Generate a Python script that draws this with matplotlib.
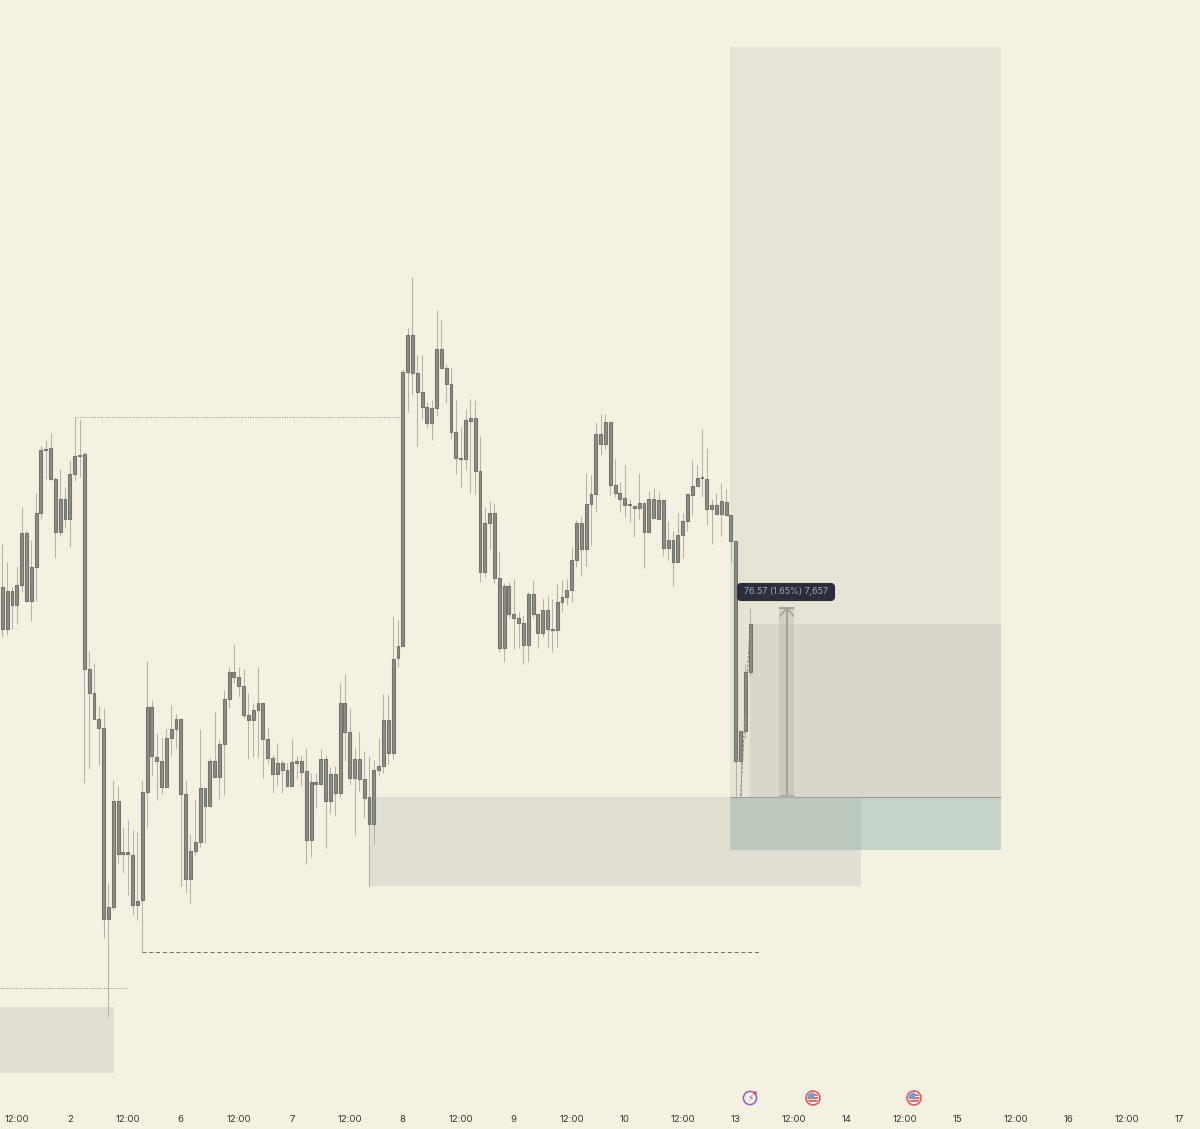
import matplotlib
matplotlib.use('Agg')
import matplotlib.pyplot as plt
from matplotlib.patches import Rectangle, Circle, FancyBboxPatch
from matplotlib.transforms import IdentityTransform

# hourly candles, heights (chart units, no price axis shown)
body_top = [542,538,538,544,596,596,562,616,679,680,681,650,630,630,655,673,674,675,460,436,
            410,401,222,328,328,277,277,274,228,337,422,422,372,368,391,400,410,410,335,278,
            287,341,341,368,368,385,430,457,457,452,443,414,419,426,426,390,371,366,366,359,
            367,368,368,358,347,347,370,370,355,355,426,426,397,370,370,350,332,359,363,409,
            409,470,483,757,794,794,756,737,722,721,780,780,761,745,697,671,709,711,711,658,
            606,616,616,551,543,543,515,511,506,535,535,515,519,519,500,527,532,539,569,606,
            606,625,635,695,695,707,707,644,636,631,625,623,626,626,630,630,629,629,589,589,
            594,608,635,643,651,652,650,624,624,628,627,614,588,398,457,505]
body_bot = [500,500,524,524,544,528,528,562,616,679,650,597,597,610,610,655,673,460,436,410,
            401,210,210,222,275,275,275,224,224,229,337,373,368,342,342,391,400,335,250,250,
            278,287,323,323,352,352,385,430,452,443,414,409,409,419,390,371,355,355,359,343,
            343,366,357,289,289,345,345,328,328,336,336,397,351,351,350,331,305,305,359,363,
            376,376,471,483,757,756,737,722,706,706,721,761,745,697,671,670,670,708,658,557,
            557,606,551,481,481,515,511,506,484,484,515,496,496,500,499,499,527,532,539,569,
            580,580,625,635,685,685,644,636,630,624,624,621,621,597,597,611,610,581,581,567,
            567,594,608,634,643,651,620,620,615,615,614,588,368,368,398,457]
wick_top = [585,567,542,563,622,599,589,636,683,689,696,652,660,642,669,712,709,677,478,466,
            423,421,246,349,343,302,309,299,297,349,468,429,396,391,400,424,415,410,349,295,
            329,400,341,371,417,389,439,462,485,462,460,436,426,462,426,401,374,386,369,366,
            390,373,374,381,356,356,380,374,362,363,446,455,421,381,397,378,373,369,391,435,
            435,513,509,760,801,852,774,774,727,729,819,809,765,761,729,702,720,730,729,693,
            622,628,625,577,546,547,550,517,514,537,549,515,531,533,530,545,549,550,582,609,
            613,656,654,707,715,715,707,670,647,664,630,623,656,626,638,641,637,629,608,598,
            616,616,635,669,664,700,681,630,636,646,640,614,588,398,465,521]
wick_bot = [492,494,500,505,537,527,508,528,610,650,649,571,593,601,582,648,652,346,360,410,
            364,191,112,219,266,256,234,214,209,177,302,353,329,335,342,374,381,243,236,226,
            274,282,286,323,352,330,334,421,446,432,411,370,372,372,351,366,336,343,336,343,
            343,350,343,265,272,321,344,281,316,313,332,368,344,294,338,311,242,285,353,356,
            365,370,462,483,717,734,683,710,701,689,713,761,726,690,655,642,659,636,635,547,
            552,580,546,477,467,511,480,481,465,467,511,481,492,482,477,482,517,524,527,562,
            553,563,583,617,674,680,634,632,617,612,607,592,610,561,597,611,610,573,569,543,
            567,571,598,614,643,632,604,585,615,593,614,567,333,333,391,453]

day_ticks = [14, 37, 60, 83, 106, 129, 152, 175, 198, 221, 244]
day_labels = ['2', '6', '7', '8', '9', '10', '13', '14', '15', '16', '17']
noon_ticks = [3, 26, 49, 72, 95, 118, 141, 164, 187, 210, 233]
tooltip_text = '76.57 (1.65%) 7,657'

BG = '#f4f0e2'
WICK = '#b5b3a9'
BODY = '#8f8c85'
EDGE = '#75736d'

plt.rcParams['font.family'] = ['Inter', 'DejaVu Sans']

fig = plt.figure(figsize=(12, 11.29), dpi=100, facecolor=BG)
ax = fig.add_axes([0, 24 / 1129, 1, 1105 / 1129], facecolor=BG)
ax.set_xlim(-0.477, 248.22)
ax.set_ylim(24, 1129)
for s in ax.spines.values():
    s.set_visible(False)
ax.yaxis.set_visible(False)

# zones
ax.add_patch(Rectangle((150.8, 332), 56.2, 750, fc='#e6e3d7', ec='none', zorder=1))
ax.add_patch(Rectangle((155, 332), 52, 173, fc='#d9d7cb', ec='none', zorder=1.1))
ax.add_patch(Rectangle((76, 243), 102, 89, fc='#e1dfd3', ec='none', zorder=1))
ax.add_patch(Rectangle((150.8, 279), 56.2, 53, fc='#c6d3c8', ec='none', zorder=1.2))
ax.add_patch(Rectangle((150.8, 279), 27.2, 53, fc='#bdc8bd', ec='none', zorder=1.3))
ax.add_patch(Rectangle((-1, 56), 24.15, 66, fc='#e1dfd3', ec='none', zorder=1))
ax.hlines(332.5, 150.8, 207, color='#a09f95', lw=0.8, zorder=1.5)

# levels
ax.hlines(712, 15, 83, color='#8d8b82', lw=0.7, ls=(0, (1, 1.5)), zorder=2)
ax.hlines(141, -1, 25.8, color='#8d8b82', lw=0.7, ls=(0, (1, 1.5)), zorder=2)
ax.hlines(177, 29, 157.2, color='#6a6862', lw=0.7, ls=(0, (4, 3)), zorder=2)

# candles
x = list(range(len(body_top)))
ax.vlines(x, wick_bot, wick_top, color=WICK, lw=0.75, zorder=3)
heights = [t - b for t, b in zip(body_top, body_bot)]
ax.bar(x, heights, bottom=body_bot, width=0.6, color=BODY, edgecolor=EDGE, lw=0.8, zorder=4)

# measure tool
ax.plot([153, 155], [333, 505], color='#8d8b84', lw=0.8, ls=(0, (2.5, 1.5)), zorder=5)
ax.add_patch(Rectangle((161, 333), 3.1, 188, fc='#a9a79d', ec='none', alpha=0.3, zorder=5))
ax.vlines(162.6, 333, 521, color='#a3a198', lw=1.4, zorder=5.1)
ax.hlines(333.5, 161, 164.1, color='#b0aea5', lw=2.2, zorder=5.1)
ax.hlines(521, 161, 164.1, color='#9c9a91', lw=1.2, zorder=5.1)
ax.plot([161.2, 162.6, 164], [513, 521, 513], color='#9c9a91', lw=1.0, zorder=5.1)
ax.add_patch(FancyBboxPatch((738, 1129 - 600), 96, 16, boxstyle='round,pad=0,rounding_size=3',
                            fc='#2a2d3a', ec='#2a2d3a', lw=1.5, transform=IdentityTransform(), zorder=6))
ax.text(786, 1129 - 592, tooltip_text, color='#a4a7ae', fontsize=6.4, ha='center', va='center',
        transform=IdentityTransform(), zorder=7)

# axis labels
ax.set_xticks(day_ticks + noon_ticks)
ax.set_xticklabels(day_labels + ['12:00'] * len(noon_ticks))
ax.tick_params(axis='x', length=0, pad=7, labelsize=6.9, labelcolor='#333331')

# event icons
tr = IdentityTransform()
cx, cy = 750, 1129 - 1098
fig.add_artist(Circle((cx, cy), 6.6, fc='none', ec='#8e5fc9', lw=1.1, transform=tr))
fig.add_artist(Circle((cx + 5, cy + 5), 1.8, fc='#d9534f', ec='none', transform=tr))
fig.text(cx, cy, '\u26a1', fontsize=6.5, color='#8e5fc9', ha='center', va='center',
         family='DejaVu Sans', transform=tr)
for cx in [813, 914]:
    fig.add_artist(Circle((cx, cy), 7, fc='#f6f2ee', ec='#d9605f', lw=1.2, transform=tr))
    clip = Circle((cx, cy), 5.5, transform=tr)
    for k, dy in enumerate([-4, -1, 2]):
        r = Rectangle((cx - 6, cy + dy), 12, 1.6, fc='#e0716f', ec='none', transform=tr)
        fig.add_artist(r)
        r.set_clip_path(clip)
    r = Rectangle((cx - 6, cy), 6.5, 6, fc='#6f9fd8', ec='none', transform=tr)
    fig.add_artist(r)
    r.set_clip_path(clip)

fig.savefig('out.png', dpi=100, facecolor=BG)
